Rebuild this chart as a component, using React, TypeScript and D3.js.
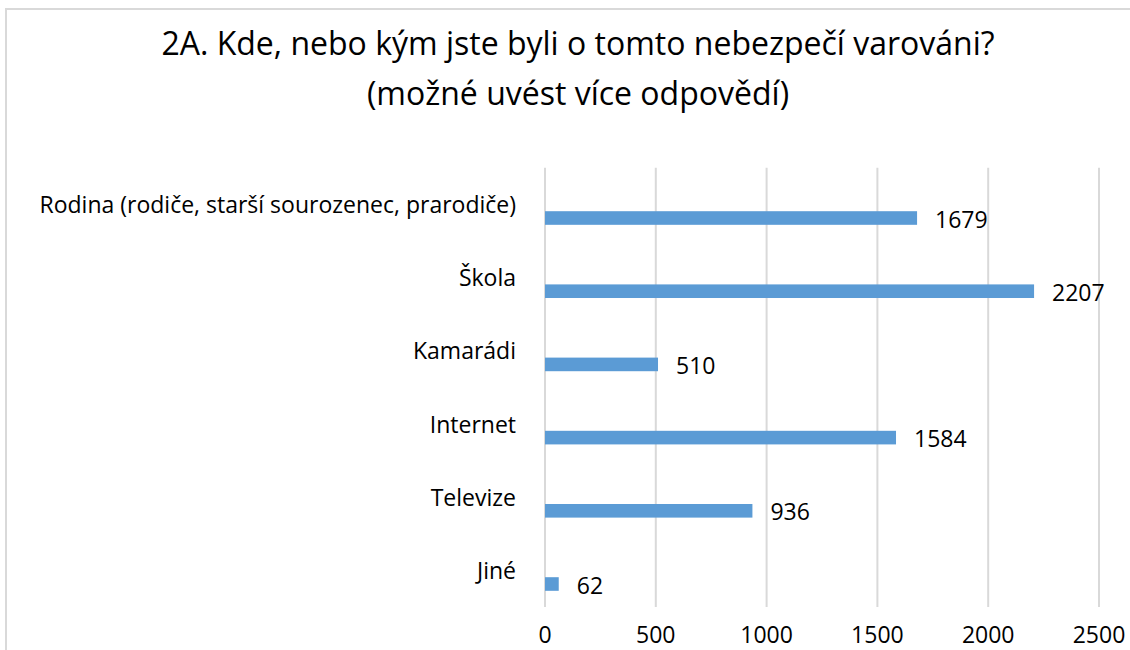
import React, { useEffect, useRef } from 'react';
import * as d3 from 'd3';

const categories = [
  'Rodina (rodiče, starší sourozenec, prarodiče)',
  'Škola',
  'Kamarádi',
  'Internet',
  'Televize',
  'Jiné',
];
const counts = [1679, 2207, 510, 1584, 936, 62];
const ticks = [0, 500, 1000, 1500, 2000, 2500];
const titleLines = [
  '2A. Kde, nebo kým jste byli o tomto nebezpečí varováni?',
  '(možné uvést více odpovědí)',
];

const W = 1130;
const H = 650;
const FONT = '"Open Sans", sans-serif';

const App = () => {
  const ref = useRef<SVGGElement>(null);

  useEffect(() => {
    const x = d3.scaleLinear().domain([0, 2500]).range([545, 1099]);
    const y = d3.scaleBand<string>().domain(categories).range([167.8, 607]);
    // Excel leaves room for empty series slots, the real bar sits in the last one
    const slot = d3
      .scaleBand<string>()
      .domain(['s1', 's2', 's3'])
      .range([0, y.step()])
      .paddingOuter(1.19);

    const g = d3.select(ref.current);
    g.selectAll('*').remove();

    g.selectAll('line.grid')
      .data(ticks)
      .enter()
      .append('line')
      .attr('class', 'grid')
      .attr('x1', d => x(d))
      .attr('x2', d => x(d))
      .attr('y1', y.range()[0])
      .attr('y2', y.range()[1])
      .attr('stroke', '#d9d9d9')
      .attr('stroke-width', 2);

    g.selectAll('text.tick')
      .data(ticks)
      .enter()
      .append('text')
      .attr('class', 'tick')
      .attr('x', d => x(d))
      .attr('y', 643)
      .attr('text-anchor', 'middle')
      .attr('font-size', 23)
      .text(d => d);

    const rows = categories.map((c, i) => ({ c, v: counts[i] }));

    g.selectAll('rect.bar')
      .data(rows)
      .enter()
      .append('rect')
      .attr('class', 'bar')
      .attr('x', x(0))
      .attr('y', d => (y(d.c) as number) + (slot('s3') as number))
      .attr('width', d => x(d.v) - x(0))
      .attr('height', slot.bandwidth())
      .attr('fill', '#5b9bd5');

    g.selectAll('text.val')
      .data(rows)
      .enter()
      .append('text')
      .attr('class', 'val')
      .attr('x', d => x(d.v) + 18)
      .attr('y', d => (y(d.c) as number) + (slot('s3') as number) + slot.bandwidth() / 2 + 9.5)
      .attr('font-size', 23)
      .text(d => d.v);

    g.selectAll('text.cat')
      .data(categories)
      .enter()
      .append('text')
      .attr('class', 'cat')
      .attr('x', 516)
      .attr('y', d => (y(d) as number) + y.bandwidth() / 2 + 8.5)
      .attr('text-anchor', 'end')
      .attr('font-size', 23)
      .text(d => d);
  }, []);

  return (
    <svg
      width={W}
      height={H}
      style={{ position: 'absolute', left: 0, top: 0, background: '#fff' }}
      fontFamily={FONT}
    >
      <rect x={6} y={9} width={W + 20} height={H + 20} fill="#fff" stroke="#d9d9d9" strokeWidth={2} />
      {titleLines.map((t, i) => (
        <text key={i} x={578} y={55 + i * 50} textAnchor="middle" fontSize={32} fill="#000">
          {t}
        </text>
      ))}
      <g ref={ref} />
    </svg>
  );
};

export default App;
